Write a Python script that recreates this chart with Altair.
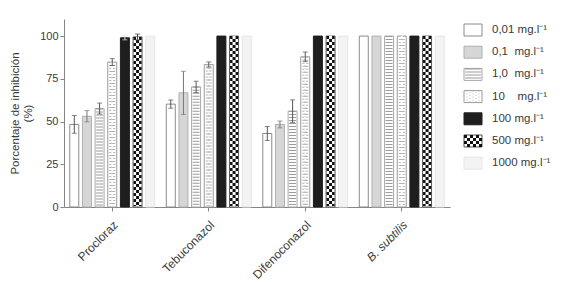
import altair as alt
import pandas as pd

categories = ["Procloraz", "Tebuconazol", "Difenoconazol", "B. subtilis"]
concentrations = ["0,01", "0,1", "1,0", "10", "100", "500", "1000"]
legend_labels = ["0,01 mg.l⁻¹", "0,1\u00a0 mg.l⁻¹", "1,0\u00a0 mg.l⁻¹",
                 "10\u00a0\u00a0\u00a0 mg.l⁻¹", "100 mg.l⁻¹", "500 mg.l⁻¹", "1000 mg.l⁻¹"]

procloraz = [48.3, 53.1, 57.6, 84.8, 99.0, 99.5, 100.0]
procloraz_err = [5.2, 3.3, 3.2, 2.0, 1.2, 1.7, 0.0]
tebuconazol = [60.2, 66.8, 70.3, 83.4, 100.0, 100.0, 100.0]
tebuconazol_err = [2.4, 12.6, 3.3, 1.5, 0.0, 0.0, 0.0]
difenoconazol = [43.0, 48.3, 56.1, 87.9, 100.0, 100.0, 100.0]
difenoconazol_err = [4.1, 2.0, 6.6, 2.8, 0.0, 0.0, 0.0]
bsubtilis = [100.0, 100.0, 100.0, 100.0, 100.0, 100.0, 100.0]
bsubtilis_err = [0.0, 0.0, 0.0, 0.0, 0.0, 0.0, 0.0]

fills = ["#ffffff", "#d6d6d6", "#ffffff", "#ffffff", "#1e1e1e", "#ffffff", "#f3f3f3"]
strokes = ["#8a8a8a", "#b0b0b0", "#a8a8a8", "#9a9a9a", "#1e1e1e", "#555555", "#e6e6e6"]
err_colors = ["#555555", "#777777", "#555555", "#555555", "#dddddd", "#444444", "#555555"]

rows = []
for cat, vals, errs in zip(categories,
                           [procloraz, tebuconazol, difenoconazol, bsubtilis],
                           [procloraz_err, tebuconazol_err, difenoconazol_err, bsubtilis_err]):
    for c, v, e in zip(concentrations, vals, errs):
        rows.append({"cat": cat, "conc": c, "val": v, "lo": v - e, "hi": v + e, "err": e})
df = pd.DataFrame(rows)

FONT = "Liberation Sans"
AX = "#858585"
TXT = "#3a3a3a"

xenc = alt.X("cat:N", sort=categories,
             scale=alt.Scale(paddingInner=0.12, paddingOuter=0.06),
             axis=alt.Axis(title=None, labelAngle=-45, labelFontSize=12, labelFont=FONT,
                           labelColor=TXT, domainColor=AX, tickColor=AX, tickSize=4,
                           labelPadding=8,
                           labelFontStyle={"condition": {"test": "datum.value === 'B. subtilis'",
                                                         "value": "italic"},
                                           "value": "normal"}))
xoff = alt.XOffset("conc:N", sort=concentrations,
                   scale=alt.Scale(paddingInner=0.29, paddingOuter=0))

yscale = alt.Scale(domain=[0, 110], nice=False)
yenc = alt.Y("val:Q", scale=yscale,
             axis=alt.Axis(title=["Porcentaje de inhibición", "(%)"], values=[0, 25, 50, 75, 100],
                           grid=False, labelFontSize=11, labelFont=FONT, labelColor=TXT,
                           titleFont=FONT, titleFontSize=11.5, titleFontWeight="normal",
                           titleColor=TXT, domainColor=AX, tickColor=AX, tickSize=4,
                           labelPadding=2, titlePadding=6))

fill_scale = alt.Scale(domain=concentrations, range=fills)
stroke_scale = alt.Scale(domain=concentrations, range=strokes)
err_scale = alt.Scale(domain=concentrations, range=err_colors)

src = alt.Chart(df)

bars = src.mark_bar(strokeWidth=1).encode(
    x=xenc, xOffset=xoff,
    y=yenc,
    fill=alt.Fill("conc:N", scale=fill_scale, legend=None),
    stroke=alt.Stroke("conc:N", scale=stroke_scale, legend=None),
)


def pattern(conc, width, dash, dash_offset, color):
    return src.transform_filter(f"datum.conc === '{conc}'").mark_rule(
        strokeWidth=width, strokeDash=dash, strokeDashOffset=dash_offset, color=color,
        strokeCap="butt").encode(
        x=xenc, xOffset=xoff,
        y=alt.Y("val:Q", scale=yscale), y2=alt.datum(0.6))


layers = [bars]
# horizontal-line pattern (1,0)
layers.append(pattern("1,0", 7, [1, 2], 0, "#9c9c9c"))
# dotted pattern (10)
layers.append(pattern("10", 6, [1, 2], 0, "#b4b4b4"))
layers.append(pattern("10", 2, [1, 5], 0, "#ffffff"))
layers.append(pattern("10", 2, [1, 5], 3, "#b4b4b4"))
# checker pattern (500)
layers.append(pattern("500", 8, [3, 3], 0, "#111111"))
layers.append(pattern("500", 3, [3, 3], 0, "#ffffff"))
layers.append(pattern("500", 3, [3, 3], 3, "#111111"))

# error bars
errb = src.transform_filter("datum.err > 0")
layers.append(errb.mark_rule(strokeWidth=1).encode(
    x=xenc, xOffset=xoff,
    y=alt.Y("lo:Q", scale=yscale), y2="hi:Q",
    color=alt.Color("conc:N", scale=err_scale, legend=None)))
for f in ["lo", "hi"]:
    layers.append(errb.mark_tick(thickness=1, size=5).encode(
        x=xenc, xOffset=xoff,
        y=alt.Y(f"{f}:Q", scale=yscale),
        color=alt.Color("conc:N", scale=err_scale, legend=None)))

main = alt.layer(*layers).properties(width=386, height=188)

# custom legend
leg_df = pd.DataFrame({"conc": concentrations, "label": legend_labels,
                       "idx": list(range(len(concentrations)))})
lscale = alt.Scale(domain=[-0.4955, 7.973], reverse=True, nice=False, zero=False)
lbase = alt.Chart(leg_df).transform_calculate(lo="datum.idx - 0.27", hi="datum.idx + 0.27")

leg_layers = [lbase.mark_rect(strokeWidth=1).encode(
    x=alt.value(0), x2=alt.value(18),
    y=alt.Y("lo:Q", scale=lscale, axis=None), y2="hi:Q",
    fill=alt.Fill("conc:N", scale=fill_scale, legend=None),
    stroke=alt.Stroke("conc:N", scale=stroke_scale, legend=None))]
leg_layers.append(lbase.transform_filter("datum.conc === '1,0'").mark_rule(
    strokeWidth=16, strokeDash=[1, 2], color="#9c9c9c").encode(
    x=alt.value(9), y=alt.Y("lo:Q", scale=lscale, axis=None), y2="hi:Q"))
for i, px in enumerate([3, 6, 9, 12, 15]):
    leg_layers.append(lbase.transform_filter("datum.conc === '10'").mark_rule(
        strokeWidth=1, strokeDash=[1, 2], strokeDashOffset=1.5 * (i % 2), color="#b4b4b4").encode(
        x=alt.value(px), y=alt.Y("lo:Q", scale=lscale, axis=None), y2="hi:Q"))
for i, px in enumerate([1.5, 4.5, 7.5, 10.5, 13.5, 16.5]):
    leg_layers.append(lbase.transform_filter("datum.conc === '500'").mark_rule(
        strokeWidth=3, strokeDash=[3, 3], strokeDashOffset=3 * (i % 2), color="#111111").encode(
        x=alt.value(px), y=alt.Y("lo:Q", scale=lscale, axis=None), y2="hi:Q"))
leg_layers.append(lbase.mark_text(align="left", baseline="middle", fontSize=11.5, font=FONT,
                                  color=TXT).encode(
    x=alt.value(28), y=alt.Y("idx:Q", scale=lscale, axis=None), text="label:N"))

legend = alt.layer(*leg_layers).properties(width=95, height=188)

chart = alt.hconcat(main, legend, spacing=13).properties(
    padding={"left": 9, "top": 19, "right": 0, "bottom": 0},
    background="white",
).configure_view(stroke=None)

chart.save("out.html", embed_options={"renderer": "svg", "actions": False})
